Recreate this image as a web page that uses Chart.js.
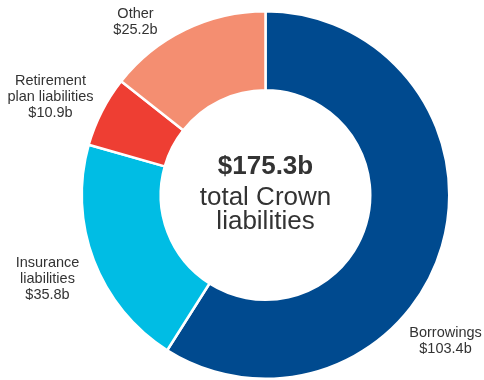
<!DOCTYPE html>
<html>
<head>
<meta charset="utf-8">
<script src="https://cdn.jsdelivr.net/npm/chart.js@4.4.1/dist/chart.umd.min.js"></script>
<style>
  html, body { margin: 0; padding: 0; background: #ffffff; }
  #wrap { width: 484px; height: 380px; }
</style>
</head>
<body>
<div id="wrap"><canvas id="c" width="484" height="380"></canvas></div>
<script>
// Crown liabilities by component ($ billion)
const categories = ['Borrowings', 'Insurance liabilities', 'Retirement plan liabilities', 'Other'];
const values = [103.4, 35.8, 10.9, 25.2];
const labelLines = [
  ['Borrowings'],
  ['Insurance', 'liabilities'],
  ['Retirement', 'plan liabilities'],
  ['Other']
];
const colors = ['#004A8F', '#00BDE4', '#EE3E33', '#F48E71'];
const totalText = '$175.3b';
const centerLines = ['total Crown', 'liabilities'];

const FONT = '"Liberation Sans", Arial, sans-serif';
const TEXT = '#333333';

// Where each outside label sits, relative to the doughnut centre
const labelPlacement = [
  { dx: 180, dy: 142 },
  { dx: -218, dy: 72 },
  { dx: -215, dy: -110 },
  { dx: -130, dy: -177 }
];

const annotations = {
  id: 'annotations',
  afterDraw(chart) {
    const { ctx } = chart;
    const arc = chart.getDatasetMeta(0).data[0];
    const cx = arc.x, cy = arc.y;
    ctx.save();
    ctx.fillStyle = TEXT;
    ctx.textAlign = 'center';
    ctx.textBaseline = 'alphabetic';

    // Outside labels: name lines then the value
    ctx.font = '14.5px ' + FONT;
    labelLines.forEach((lines, i) => {
      const p = labelPlacement[i];
      const all = lines.concat(['$' + values[i].toFixed(1) + 'b']);
      all.forEach((t, j) => ctx.fillText(t, cx + p.dx, cy + p.dy + j * 16));
    });

    // Centre total
    ctx.font = 'bold 26px ' + FONT;
    ctx.fillText(totalText, cx, cy - 21);
    ctx.font = '26px ' + FONT;
    ctx.fillText(centerLines[0], cx, cy + 10);
    ctx.fillText(centerLines[1], cx, cy + 34);
    ctx.restore();
  }
};

new Chart(document.getElementById('c'), {
  type: 'doughnut',
  data: {
    labels: categories,
    datasets: [{
      data: values,
      backgroundColor: colors,
      borderColor: '#ffffff',
      borderWidth: 2.5,
      hoverOffset: 0
    }]
  },
  options: {
    responsive: false,
    animation: false,
    cutout: '57%',
    rotation: 0,
    layout: { padding: { top: 10, bottom: 0, left: 80, right: 33 } },
    plugins: {
      legend: { display: false },
      tooltip: { enabled: false }
    }
  },
  plugins: [annotations]
});
</script>
</body>
</html>
